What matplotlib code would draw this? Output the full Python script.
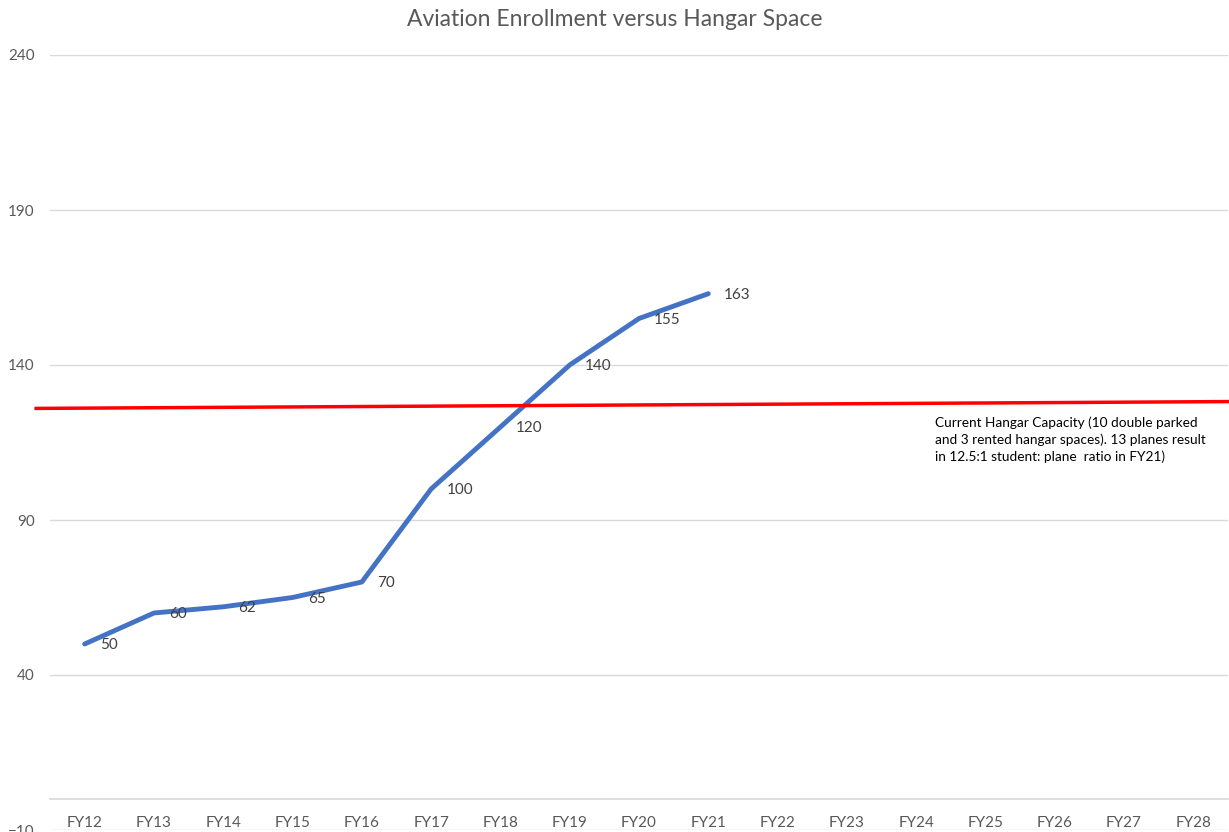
import matplotlib.pyplot as plt

# Enrollment data
years = ["FY12", "FY13", "FY14", "FY15", "FY16", "FY17", "FY18", "FY19", "FY20",
         "FY21", "FY22", "FY23", "FY24", "FY25", "FY26", "FY27", "FY28"]
enrollment = [50, 60, 62, 65, 70, 100, 120, 140, 155, 163]

# Hangar capacity line (hand-drawn shape, slightly tilted)
capacity_x = [-0.7, 16.5]
capacity_y = [126.0, 128.2]
capacity_note = ("Current Hangar Capacity (10 double parked\n"
                 "and 3 rented hangar spaces). 13 planes result\n"
                 "in 12.5:1 student: plane  ratio in FY21)")

yticks = [-10, 40, 90, 140, 190, 240]

plt.rcParams['font.family'] = ['Lato', 'DejaVu Sans']

fig = plt.figure(figsize=(12.29, 8.32), dpi=100)
ax = fig.add_axes([50 / 1229, 2 / 832, 1178 / 1229, 775 / 832])

x = list(range(len(years)))
ax.plot(x[:len(enrollment)], enrollment, color='#4472C4', linewidth=3.5,
        solid_capstyle='round', solid_joinstyle='round', zorder=3)

# Data labels to the right of each point
for i, v in enumerate(enrollment):
    ax.annotate(str(v), (i, v), xytext=(11, -1), textcoords='offset points',
                ha='left', va='center', fontsize=11, color='#404040')

ax.plot(capacity_x, capacity_y, color='#FF0000', linewidth=2.5,
        clip_on=False, zorder=4)
ax.text(12.27, 123.5, capacity_note, fontsize=9.8, color='black',
        ha='left', va='top', linespacing=1.42)

ax.set_xlim(-0.5, 16.5)
ax.set_ylim(-10, 240)
ax.set_yticks(yticks)
ax.set_xticks(x)
ax.set_xticklabels(years)
ax.grid(axis='y', color='#D9D9D9', linewidth=1)
ax.set_axisbelow(True)

for s in ['top', 'right', 'left']:
    ax.spines[s].set_visible(False)
ax.spines['bottom'].set_position(('data', 0))
ax.spines['bottom'].set_color('#D9D9D9')
ax.spines['bottom'].set_linewidth(1.2)
ax.tick_params(length=0, colors='#595959', labelsize=11)
ax.tick_params(axis='y', pad=11)
ax.tick_params(axis='x', pad=12)

fig.text(615 / 1229, 1 - 20 / 832, "Aviation Enrollment versus Hangar Space",
         ha='center', va='center', fontsize=16.5, color='#595959')

plt.savefig("out.png", dpi=100)
